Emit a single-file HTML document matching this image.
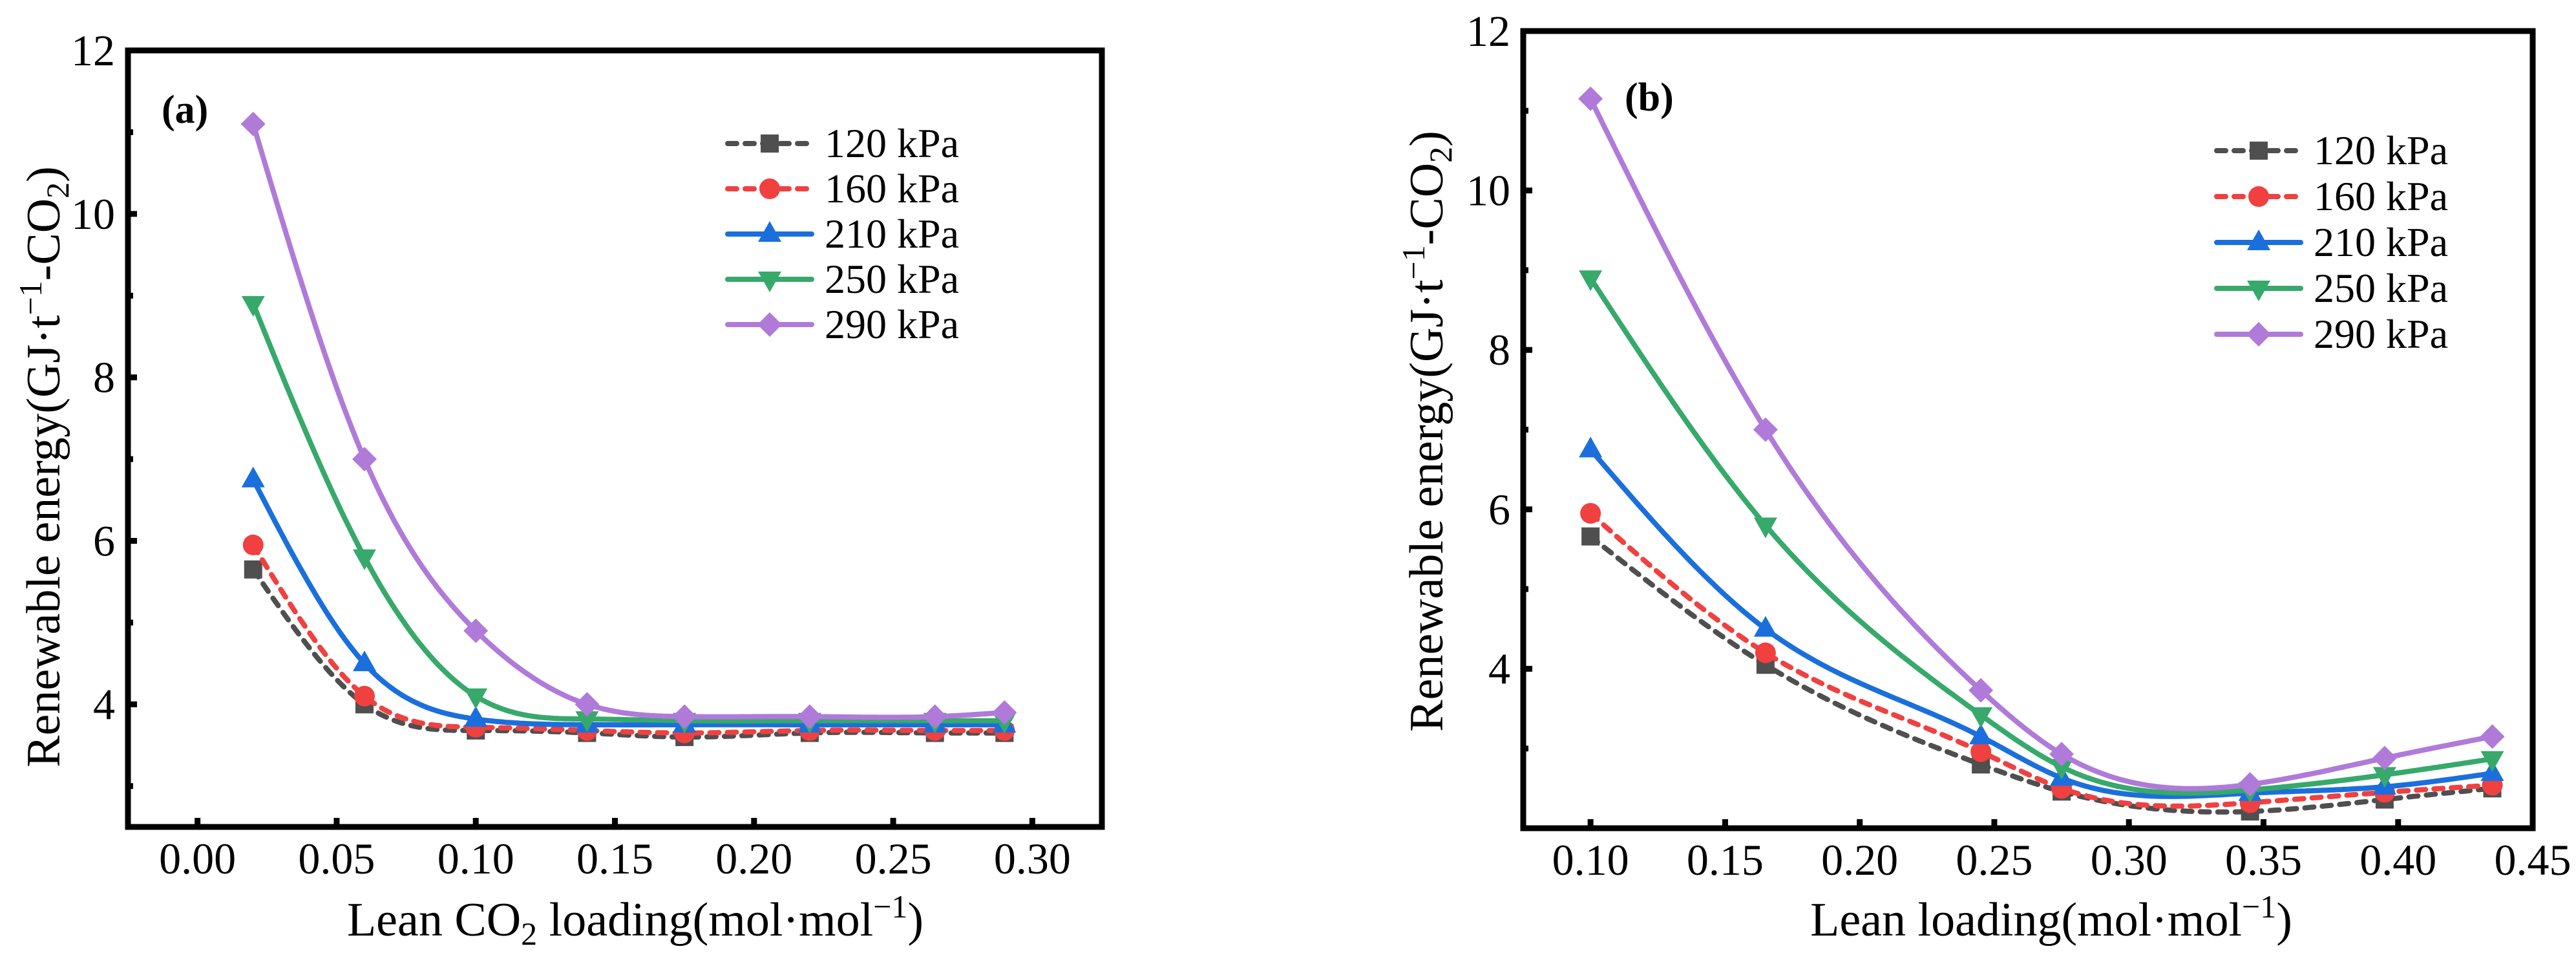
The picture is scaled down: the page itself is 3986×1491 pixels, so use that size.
<!DOCTYPE html>
<html><head><meta charset="utf-8"><style>
html,body{margin:0;padding:0;background:#fff;}
svg{display:block;font-family:"Liberation Serif","Times New Roman",serif;}
</style></head><body>
<svg id="chart" width="3986" height="1491" viewBox="0 0 3986 1491" xmlns="http://www.w3.org/2000/svg"></svg>
<script>
// ---- Panel (a) data ----
const xA = [0.02, 0.06, 0.10, 0.14, 0.175, 0.22, 0.265, 0.29];
const a120 = [5.65, 4.0, 3.68, 3.65, 3.6, 3.65, 3.65, 3.65];
const a160 = [5.95, 4.1, 3.72, 3.68, 3.65, 3.68, 3.68, 3.68];
const a210 = [6.75, 4.5, 3.82, 3.75, 3.75, 3.75, 3.75, 3.75];
const a250 = [8.9, 5.8, 4.1, 3.82, 3.8, 3.8, 3.8, 3.8];
const a290 = [11.1, 7.0, 4.9, 4.0, 3.85, 3.85, 3.85, 3.9];
const xTicksA = ["0.00","0.05","0.10","0.15","0.20","0.25","0.30"];
// ---- Panel (b) data ----
const xB = [0.10, 0.165, 0.245, 0.275, 0.345, 0.395, 0.435];
const b120 = [5.66, 4.05, 2.8, 2.46, 2.21, 2.36, 2.5];
const b160 = [5.95, 4.2, 2.96, 2.5, 2.32, 2.45, 2.54];
const b210 = [6.75, 4.5, 3.15, 2.63, 2.44, 2.52, 2.69];
const b250 = [8.9, 5.8, 3.42, 2.77, 2.48, 2.67, 2.87];
const b290 = [11.15, 7.0, 3.73, 2.93, 2.55, 2.88, 3.15];
const xTicksB = ["0.10","0.15","0.20","0.25","0.30","0.35","0.40","0.45"];
const yTicks = ["4","6","8","10","12"];
const seriesNames = ["120 kPa","160 kPa","210 kPa","250 kPa","290 kPa"];

const NS="http://www.w3.org/2000/svg";
const svg=document.getElementById('chart');
function mk(tag,attrs,parent){const e=document.createElementNS(NS,tag);for(const k in attrs)e.setAttribute(k,attrs[k]);(parent||svg).appendChild(e);return e;}

const styles=[
 {c:"#4f4f4f",dash:"14 13",m:"square"},
 {c:"#f04040",dash:"14 13",m:"circle"},
 {c:"#1a6fdd",dash:"",m:"tri"},
 {c:"#36a96b",dash:"",m:"tridown"},
 {c:"#b07ad9",dash:"",m:"diamond"}];

function marker(g,type,x,y,c){
  let e;
  if(type==="square") e=mk('rect',{x:x-14,y:y-14,width:28,height:28,fill:c},g);
  else if(type==="circle") e=mk('circle',{cx:x,cy:y,r:16,fill:c},g);
  else if(type==="tri") e=mk('polygon',{points:`${x},${y-20} ${x+18},${y+12} ${x-18},${y+12}`,fill:c},g);
  else if(type==="tridown") e=mk('polygon',{points:`${x},${y+20} ${x+18},${y-12} ${x-18},${y-12}`,fill:c},g);
  else e=mk('polygon',{points:`${x},${y-19} ${x+19},${y} ${x},${y+19} ${x-19},${y}`,fill:c},g);
  
  
}
// natural cubic spline in data space
function splinePts(xs,ys){
  const n=xs.length,h=[],al=[],l=[1],mu=[0],z=[0],c=new Array(n).fill(0),b=[],d=[];
  for(let i=0;i<n-1;i++)h[i]=xs[i+1]-xs[i];
  for(let i=1;i<n-1;i++)al[i]=3/h[i]*(ys[i+1]-ys[i])-3/h[i-1]*(ys[i]-ys[i-1]);
  for(let i=1;i<n-1;i++){l[i]=2*(xs[i+1]-xs[i-1])-h[i-1]*mu[i-1];mu[i]=h[i]/l[i];z[i]=(al[i]-h[i-1]*z[i-1])/l[i];}
  l[n-1]=1;z[n-1]=0;
  for(let j=n-2;j>=0;j--){c[j]=z[j]-mu[j]*c[j+1];b[j]=(ys[j+1]-ys[j])/h[j]-h[j]*(c[j+1]+2*c[j])/3;d[j]=(c[j+1]-c[j])/(3*h[j]);}
  const out=[];
  for(let i=0;i<n-1;i++){for(let k=0;k<40;k++){const t=h[i]*k/40;out.push([xs[i]+t,ys[i]+b[i]*t+c[i]*t*t+d[i]*t*t*t]);}}
  out.push([xs[n-1],ys[n-1]]);
  return out;
}

function panel(cfg){
  const g=mk('g',{});
  
  
  const X=v=>cfg.L+(v-cfg.xmin)/(cfg.xmax-cfg.xmin)*(cfg.R-cfg.L);
  const Y=v=>cfg.B-(v-cfg.ymin)/(cfg.ymax-cfg.ymin)*(cfg.B-cfg.T);
  yTicks.forEach(t=>{const v=+t,y=Y(v);
    const tk=mk('line',{x1:cfg.L,x2:cfg.L+14,y1:y,y2:y,stroke:"#000","stroke-width":9},g);
    
    const tx=mk('text',{x:cfg.L-20,y:y+23,"text-anchor":"end","font-size":68},g);tx.textContent=t;
    
  });
  for(let v=3;v<12;v+=2){if(v<cfg.ymin)continue;const y=Y(v);
    const tk=mk('line',{x1:cfg.L,x2:cfg.L+8,y1:y,y2:y,stroke:"#000","stroke-width":9},g);
    }
  cfg.xt.forEach(t=>{const x=X(+t);
    const tk=mk('line',{x1:x,x2:x,y1:cfg.B,y2:cfg.B-14,stroke:"#000","stroke-width":9},g);
    
    const tx=mk('text',{x:x,y:cfg.B+72,"text-anchor":"middle","font-size":68},g);tx.textContent=t;
    
  });
  cfg.series.forEach((ys,i)=>{const s=styles[i];
    const sg=mk('g',{},g);
    
    
    const sp=splinePts(cfg.x,ys).map(q=>[X(q[0]),Y(q[1])]);
    const d='M'+sp.map(q=>q[0].toFixed(1)+','+q[1].toFixed(1)).join(' L');
    const p=mk('path',{d:d,fill:"none",stroke:s.c,"stroke-width":8,"stroke-linecap":"round","stroke-linejoin":"round"},sg);
    if(s.dash)p.setAttribute('stroke-dasharray',s.dash);
    
    cfg.x.forEach((xv,j)=>marker(sg,s.m,X(xv),Y(ys[j]),s.c));
  });
  const fr=mk('rect',{x:cfg.L,y:cfg.T,width:cfg.R-cfg.L,height:cfg.B-cfg.T,fill:"none",stroke:"#000","stroke-width":9},g);
  
  const lg=mk('g',{},g);
  seriesNames.forEach((n,i)=>{const s=styles[i],y=cfg.legY+i*cfg.legDy;
    const eg=mk('g',{},lg);
    const l=mk('line',{x1:cfg.legX,x2:cfg.legX+130,y1:y,y2:y,stroke:s.c,"stroke-width":8,"stroke-linecap":"round"},eg);
    if(s.dash)l.setAttribute('stroke-dasharray',s.dash);
    marker(eg,s.m,cfg.legX+65,y,s.c);
    const t=mk('text',{x:cfg.legX+150,y:y+21,"font-size":64},eg);t.textContent=n;
    
  });
  const pl=mk('text',{x:cfg.plX,y:cfg.plY,"font-size":62,"font-weight":"bold"},g);pl.textContent=cfg.label;
  
  const xt=mk('text',{x:cfg.xtX,y:1447,"text-anchor":"middle","font-size":74},g);
  xt.innerHTML=cfg.xtitle;
  const yt=mk('text',{x:0,y:0,"text-anchor":"middle","font-size":74,transform:`translate(${cfg.ytX},${cfg.ytY}) rotate(-90)`},g);
  yt.innerHTML='Renewable energy(GJ·t<tspan dy="-28" font-size="50">−1</tspan><tspan dy="28">-CO</tspan><tspan dy="14" font-size="50">2</tspan><tspan dy="-14">)</tspan>';
  
}

panel({name:'panel-a',L:198,R:1705,T:78,B:1279,xmin:-0.025,xmax:0.325,ymin:2.5,ymax:12,
  x:xA,series:[a120,a160,a210,a250,a290],xt:xTicksA,legX:1126,legY:222,legDy:70,
  label:'(a)',plX:250,plY:190,xtX:983,ytX:92,ytY:722,
  xtitle:'Lean CO<tspan dy="14" font-size="50">2</tspan><tspan dy="-14"> loading(mol·mol</tspan><tspan dy="-28" font-size="50">−1</tspan><tspan dy="28">)</tspan>'});
panel({name:'panel-b',L:2357,R:3919,T:48,B:1281,xmin:0.075,xmax:0.45,ymin:2,ymax:12,
  x:xB,series:[b120,b160,b210,b250,b290],xt:xTicksB,legX:3430,legY:233,legDy:71,
  label:'(b)',plX:2514,plY:171,xtX:3174,ytX:2232,ytY:667,
  xtitle:'Lean loading(mol·mol<tspan dy="-28" font-size="50">−1</tspan><tspan dy="28">)</tspan>'});
</script>
</body></html>
